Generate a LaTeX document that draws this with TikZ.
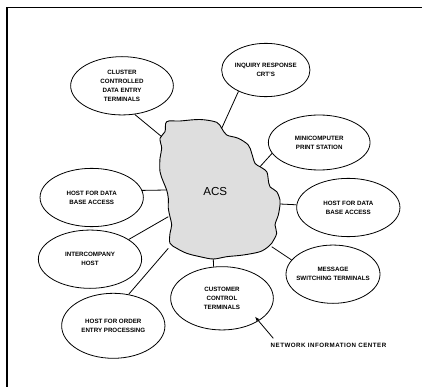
\documentclass[tikz,border=0pt]{standalone}
\usepackage{fontspec}
\setmainfont{Liberation Sans}
\usetikzlibrary{arrows.meta,shapes.geometric}

\begin{document}
\begin{tikzpicture}[x=1pt,y=-1pt,
    unit/.style={draw, ellipse, line width=0.8pt, inner sep=0pt, align=center,
      font=\bfseries\fontsize{6.2}{8.9}\selectfont},
    link/.style={line width=0.8pt}]
  \useasboundingbox (0,0) rectangle (422,387);
  % frame
  \draw[line width=1.5pt] (7,387) -- (7,7.3) -- (422,7.3);
  % ACS cloud
  \draw[line width=0.9pt, fill=black!13] plot[smooth cycle, tension=0.55] coordinates {
    (166.7,121.7) (180,121) (200,119.5) (216.7,122.3) (221.7,128.3) (226.7,135)
    (238.3,138.3) (248.3,145) (251.7,153.3) (255,163.3) (260,166.7) (266.7,171.7)
    (268.3,180) (270,186.7) (276.7,191.7) (280,200) (280,205) (278.3,215) (275,225)
    (276.7,233.3) (271.7,243.3) (268.3,246.7) (260,251.7) (243.3,255) (226.7,256.7)
    (213.3,259) (200,256.7) (186.7,253.3) (176.7,248.3) (170,243.3) (170,233.3)
    (171.7,225) (170,216.7) (168.3,208.3) (168.3,198.3) (166.7,190) (163.3,181.7)
    (160,171.7) (160,158.3) (161.7,148.3) (160,138.3) (165,131.7)};
  \node[font=\fontsize{11.6}{12}\selectfont] (acs) at (215.3,191.7) {ACS};
  % points on the cloud
  \coordinate (bcluster) at (161.7,136.7);
  \coordinate (binquiry) at (221.7,128.3);
  \coordinate (bminicomp) at (260,166.7);
  \coordinate (bhostr) at (280,204);
  \coordinate (bmessage) at (271.7,246.7);
  \coordinate (bcustomer) at (213.3,259);
  \coordinate (bhostorder) at (168.3,248.3);
  \coordinate (binterco) at (168.3,216.7);
  \coordinate (bhostl) at (166.7,190);
  % units
  \node[unit, minimum width=102.7, minimum height=58.3] (cluster) at (122,85.8)
    {CLUSTER\\CONTROLLED\\DATA ENTRY\\TERMINALS};
  \node[unit, minimum width=88.3, minimum height=53.3, inner xsep=-8pt] (inquiry) at (265.8,70)
    {INQUIRY RESPONSE\\CRT'S};
  \node[unit, minimum width=101.7, minimum height=55] (minicomp) at (319.2,142.5)
    {MINICOMPUTER\\PRINT STATION};
  \node[unit, minimum width=103.3, minimum height=58.3] (hostr) at (348.3,207.5)
    {HOST FOR DATA\\BASE ACCESS};
  \node[unit, minimum width=94, minimum height=58.3, inner xsep=-10pt] (message) at (333,274.2)
    {MESSAGE\\SWITCHING TERMINALS};
  \node[unit, minimum width=102.7, minimum height=63.3] (customer) at (222,298.3)
    {CUSTOMER\\CONTROL\\TERMINALS};
  \node[unit, minimum width=103.3, minimum height=65] (hostorder) at (113.3,325.8)
    {HOST FOR ORDER\\ENTRY PROCESSING};
  \node[unit, minimum width=103.3, minimum height=58.3] (interco) at (90,259.2)
    {INTERCOMPANY\\HOST};
  \node[unit, minimum width=103.3, minimum height=58.3] (hostl) at (91.7,197.5)
    {HOST FOR DATA\\BASE ACCESS};
  % links
  \draw[link] (cluster.-66) -- (bcluster);
  \draw[link] (inquiry.-142) -- (binquiry);
  \draw[link] (minicomp.-167) -- (bminicomp);
  \draw[link] (hostr.177) -- (bhostr);
  \draw[link] (message.161) -- (bmessage);
  \draw[link] (customer.105) -- (bcustomer);
  \draw[link] (hostorder.64) -- (bhostorder);
  \draw[link] (interco.27) -- (binterco);
  \draw[link] (hostl.8) -- (bhostl);
  % network information center
  \node[font=\bfseries\fontsize{6.2}{8}\selectfont\addfontfeature{LetterSpace=8}] (nic) at (328.5,345.7)
    {NETWORK INFORMATION CENTER};
  \coordinate (nictail) at (273.3,338.3);
  \coordinate (nictip) at (255,316.7);
  \draw[link, -{Latex[length=4.5pt, width=3.5pt]}] (nictail) -- (nictip);
\end{tikzpicture}
\end{document}
